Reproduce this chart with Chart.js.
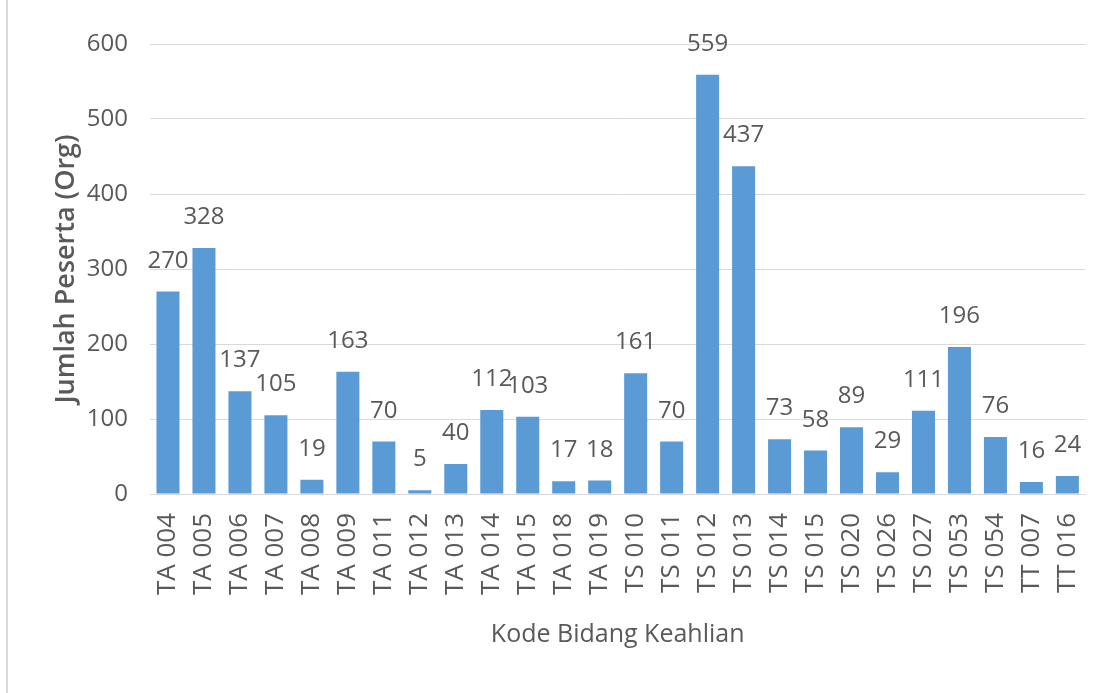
<!DOCTYPE html>
<html>
<head>
<meta charset="utf-8">
<script src="https://cdn.jsdelivr.net/npm/chart.js@4/dist/chart.umd.min.js"></script>
<style>
  body { margin: 0; background: #fff; }
  #wrap { position: relative; width: 1110px; height: 693px; }
  #garis { position: absolute; left: 6px; top: 0; width: 2px; height: 693px; background: #d9d9d9; }
</style>
</head>
<body>
<div id="wrap">
  <div id="garis"></div>
  <canvas id="grafik" width="1110" height="693"></canvas>
</div>
<script>
// data jumlah peserta per kode bidang keahlian
const kodeBidang = [
  "TA 004", "TA 005", "TA 006", "TA 007", "TA 008", "TA 009", "TA 011", "TA 012", "TA 013",
  "TA 014", "TA 015", "TA 018", "TA 019",
  "TS 010", "TS 011", "TS 012", "TS 013", "TS 014", "TS 015", "TS 020", "TS 026", "TS 027",
  "TS 053", "TS 054",
  "TT 007", "TT 016"
];
const jumlahPeserta = [
  270, 328, 137, 105, 19, 163, 70, 5, 40, 112, 103, 17, 18,
  161, 70, 559, 437, 73, 58, 89, 29, 111, 196, 76,
  16, 24
];
const tickY = [0, 100, 200, 300, 400, 500, 600];

const warnaTeks = "#595959";
const huruf = "'Open Sans', 'Noto Sans', sans-serif";

// label angka di atas batang
const labelNilai = {
  id: "labelNilai",
  afterDatasetsDraw(chart) {
    const ctx = chart.ctx;
    const meta = chart.getDatasetMeta(0);
    ctx.save();
    ctx.font = "24px " + huruf;
    ctx.fillStyle = warnaTeks;
    ctx.textAlign = "center";
    ctx.textBaseline = "alphabetic";
    meta.data.forEach((bar, i) => {
      ctx.fillText(String(jumlahPeserta[i]), bar.x, bar.y - 24);
    });
    ctx.restore();
  }
};

new Chart(document.getElementById("grafik"), {
  type: "bar",
  data: {
    labels: kodeBidang,
    datasets: [{
      data: jumlahPeserta,
      backgroundColor: "#5B9BD5",
      barPercentage: 0.64,
      categoryPercentage: 1
    }]
  },
  options: {
    responsive: false,
    animation: false,
    layout: { padding: { top: 44, right: 22, left: 0, bottom: 0 } },
    plugins: {
      legend: { display: false },
      tooltip: { enabled: false }
    },
    scales: {
      x: {
        afterFit(scale) { scale.height = 199; },
        grid: { display: false },
        border: { display: true, color: "#d9d9d9", width: 1 },
        ticks: {
          autoSkip: false,
          maxRotation: 90,
          minRotation: 90,
          padding: 11,
          color: warnaTeks,
          font: { family: huruf, size: 26 }
        },
        title: {
          display: true,
          text: "Kode Bidang Keahlian",
          color: warnaTeks,
          font: { family: huruf, size: 25 },
          padding: { top: 0, bottom: 43 }
        }
      },
      y: {
        min: 0,
        max: 600,
        afterFit(scale) { scale.width = 150; },
        afterBuildTicks(scale) { scale.ticks = tickY.map(v => ({ value: v })); },
        grid: { color: "#d9d9d9", lineWidth: 1, drawTicks: false },
        border: { display: false },
        ticks: {
          padding: 22,
          color: warnaTeks,
          font: { family: huruf, size: 24 }
        },
        title: {
          display: true,
          text: "Jumlah Peserta (Org)",
          color: warnaTeks,
          font: { family: huruf, size: 27, weight: "600" },
          padding: { top: 50, bottom: 0 }
        }
      }
    }
  },
  plugins: [labelNilai]
});
</script>
</body>
</html>
